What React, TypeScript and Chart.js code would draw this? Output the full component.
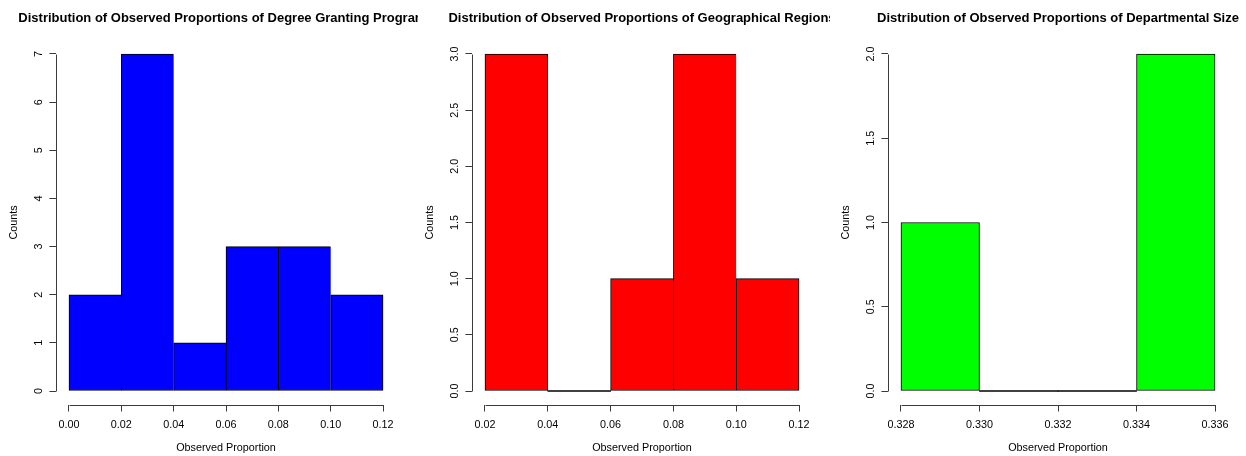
import React, { useEffect, useRef } from "react";
import { Chart, registerables } from "chart.js";

Chart.register(...registerables);

// ---- data ----
const degreeEdges = [0.0, 0.02, 0.04, 0.06, 0.08, 0.1, 0.12];
const degreeCounts = [2, 7, 1, 3, 3, 2];
const degreeYTicks = [0, 1, 2, 3, 4, 5, 6, 7];

const regionEdges = [0.02, 0.04, 0.06, 0.08, 0.1, 0.12];
const regionCounts = [3, 0, 1, 3, 1];
const regionYTicks = [0, 0.5, 1, 1.5, 2, 2.5, 3];

const sizeEdges = [0.328, 0.33, 0.332, 0.334, 0.336];
const sizeCounts = [1, 0, 0, 2];
const sizeYTicks = [0, 0.5, 1, 1.5, 2];

const panelTitles = [
  "Distribution of Observed Proportions of Degree Granting Programs",
  "Distribution of Observed Proportions of Geographical Regions",
  "Distribution of Observed Proportions of Departmental Size",
];
const xAxisTitle = "Observed Proportion";
const yAxisTitle = "Counts";

const FONT = "'Liberation Sans', Arial, sans-serif";
const AXIS_COLOR = "#3a3a3a";

type PanelProps = {
  left: number;
  width: number;
  title: string;
  edges: number[];
  counts: number[];
  yTicks: number[];
  color: string;
  xDecimals: number;
  yDecimals: number;
};

function Panel(props: PanelProps) {
  const ref = useRef<HTMLCanvasElement | null>(null);
  const { left, width, title, edges, counts, yTicks, color, xDecimals, yDecimals } = props;

  useEffect(() => {
    if (!ref.current) return;
    const xMin = edges[0];
    const xMax = edges[edges.length - 1];
    const xPad = (xMax - xMin) * 0.04;
    const yMax = Math.max(...counts);
    const yPad = yMax * 0.04;

    const points = counts.map((c, i) => ({ x: (edges[i] + edges[i + 1]) / 2, y: c }));

    const rPlugin = {
      id: "rStyle",
      afterDraw(chart: any) {
        const ctx = chart.ctx as CanvasRenderingContext2D;
        const area = chart.chartArea;
        const xs = chart.scales.x;
        const ys = chart.scales.y;
        const align = (v: number) => Math.round(v) + 0.5;
        ctx.save();
        // axis lines spanning first to last tick (R style)
        ctx.strokeStyle = AXIS_COLOR;
        ctx.lineWidth = 1;
        ctx.beginPath();
        const yb = align(area.bottom);
        ctx.moveTo(align(xs.getPixelForValue(edges[0])), yb);
        ctx.lineTo(align(xs.getPixelForValue(edges[edges.length - 1])), yb);
        const xl = align(area.left);
        ctx.moveTo(xl, align(ys.getPixelForValue(yTicks[0])));
        ctx.lineTo(xl, align(ys.getPixelForValue(yTicks[yTicks.length - 1])));
        ctx.stroke();

        // y tick labels, rotated parallel to axis
        ctx.fillStyle = "#000";
        ctx.font = `10.8px ${FONT}`;
        ctx.textAlign = "center";
        ctx.textBaseline = "alphabetic";
        for (const v of yTicks) {
          const py = ys.getPixelForValue(v);
          ctx.save();
          ctx.translate(area.left - 14, py);
          ctx.rotate(-Math.PI / 2);
          ctx.fillText(v.toFixed(yDecimals), 0, 0);
          ctx.restore();
        }

        // main title centred on plot region
        ctx.font = `bold 13px ${FONT}`;
        ctx.textAlign = "center";
        ctx.textBaseline = "alphabetic";
        ctx.fillText(title, (area.left + area.right) / 2, 21.5);
        ctx.restore();
      },
    };

    const chart = new Chart(ref.current, {
      type: "bar",
      data: {
        datasets: [
          {
            data: points as any,
            backgroundColor: (c: any) => (counts[c.dataIndex] === 0 ? "#000" : color),
            borderColor: "#000",
            borderSkipped: false,
            minBarLength: 1,
            borderWidth: (c: any) => {
              const i = c.dataIndex;
              if (counts[i] === 0) return 0;
              const last = i === counts.length - 1;
              const nextZero = !last && counts[i + 1] === 0;
              return { left: 1, top: 1, bottom: 1, right: last || nextZero ? 1 : 0 };
            },
            barPercentage: 1,
            categoryPercentage: 1,
          } as any,
        ],
      },
      options: {
        animation: false,
        responsive: false,
        devicePixelRatio: 1,
        events: [],
        layout: { padding: { left: 0, top: 40.5, right: width - 395.6, bottom: 0 } },
        plugins: {
          legend: { display: false },
          tooltip: { enabled: false },
          title: { display: false },
        },
        scales: {
          x: {
            type: "linear",
            offset: false,
            min: xMin - xPad,
            max: xMax + xPad,
            afterBuildTicks: (s: any) => {
              s.ticks = edges.map((v) => ({ value: v }));
            },
            afterFit: (s: any) => {
              s.height = 51.5;
              s.paddingLeft = 0;
              s.paddingRight = 0;
            },
            ticks: {
              autoSkip: false,
              maxRotation: 0,
              minRotation: 0,
              padding: 7,
              color: "#000",
              font: { family: FONT, size: 10.8 },
              callback: (v: any) => Number(v).toFixed(xDecimals),
            },
            grid: {
              display: true,
              offset: false,
              drawOnChartArea: false,
              drawTicks: true,
              tickLength: 7,
              color: AXIS_COLOR,
              lineWidth: 1,
            },
            border: { display: false },
            title: {
              display: true,
              text: xAxisTitle,
              color: "#000",
              font: { family: FONT, size: 10.8 },
              padding: { top: 0, bottom: 1 },
            },
          },
          y: {
            type: "linear",
            min: -yPad,
            max: yMax + yPad,
            afterBuildTicks: (s: any) => {
              s.ticks = yTicks.map((v) => ({ value: v }));
            },
            afterFit: (s: any) => {
              s.width = 56.4;
              s.paddingTop = 0;
              s.paddingBottom = 0;
            },
            ticks: { display: false },
            grid: {
              display: true,
              drawOnChartArea: false,
              drawTicks: true,
              tickLength: 7,
              color: AXIS_COLOR,
              lineWidth: 1,
            },
            border: { display: false },
            title: {
              display: true,
              text: yAxisTitle,
              color: "#000",
              font: { family: FONT, size: 10.8 },
              padding: { top: 8, bottom: 0 },
            },
          },
        },
      } as any,
      plugins: [rPlugin],
    });
    return () => chart.destroy();
  }, []);

  return (
    <canvas
      ref={ref}
      width={width}
      height={456}
      style={{ position: "absolute", left, top: 0, width, height: 456 }}
    />
  );
}

export default function App() {
  return (
    <div
      style={{
        position: "fixed",
        left: 0,
        top: 0,
        width: 1246,
        height: 456,
        background: "#fff",
        overflow: "hidden",
      }}
    >
      <Panel
        left={0}
        width={418}
        title={panelTitles[0]}
        edges={degreeEdges}
        counts={degreeCounts}
        yTicks={degreeYTicks}
        color="#0000ff"
        xDecimals={2}
        yDecimals={0}
      />
      <Panel
        left={416}
        width={414}
        title={panelTitles[1]}
        edges={regionEdges}
        counts={regionCounts}
        yTicks={regionYTicks}
        color="#ff0000"
        xDecimals={2}
        yDecimals={1}
      />
      <Panel
        left={832}
        width={414}
        title={panelTitles[2]}
        edges={sizeEdges}
        counts={sizeCounts}
        yTicks={sizeYTicks}
        color="#00ff00"
        xDecimals={3}
        yDecimals={1}
      />
    </div>
  );
}
